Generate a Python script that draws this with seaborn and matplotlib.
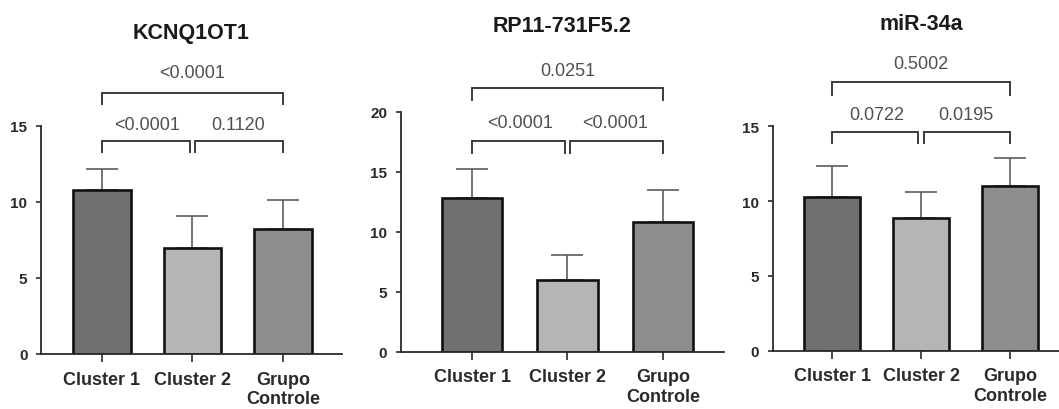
import numpy as np
import pandas as pd
import matplotlib
matplotlib.use("Agg")
import matplotlib.pyplot as plt
import seaborn as sns

# ---- data -------------------------------------------------------------
groups = ["Cluster 1", "Cluster 2", "Grupo\nControle"]
genes = ["KCNQ1OT1", "RP11-731F5.2", "miR-34a"]

kcnq_mean = [10.8, 6.95, 8.2]
kcnq_sd = [1.4, 2.15, 1.95]
rp11_mean = [12.8, 6.0, 10.8]
rp11_sd = [2.4, 2.1, 2.7]
mir34_mean = [10.25, 8.87, 11.03]
mir34_sd = [2.12, 1.76, 1.85]

# p-values: (Cluster 1 vs 2, Cluster 2 vs Controle, Cluster 1 vs Controle)
kcnq_p = ["<0.0001", "0.1120", "<0.0001"]
rp11_p = ["<0.0001", "<0.0001", "0.0251"]
mir34_p = ["0.0722", "0.0195", "0.5002"]

kcnq_yticks = [0, 5, 10, 15]
rp11_yticks = [0, 5, 10, 15, 20]
mir34_yticks = [0, 5, 10, 15]

# ---- styling ----------------------------------------------------------
sns.set_style("ticks")
plt.rcParams["font.family"] = ["Liberation Sans", "DejaVu Sans"]

bar_colors = ["#707070", "#b4b4b8", "#8d8d8d"]
ink = "#2a2a2a"
bracket_col = "#3c3c3c"
ptext_col = "#505050"

W, H = 1059, 410
fig = plt.figure(figsize=(W / 100, H / 100), dpi=100)

# panel layout in pixels: left, right, baseline, px per unit, ylim top, xlim, title y
layouts = [
    dict(left=41, right=342, base=355, ppu=15.2, ytop=20, xl=(-0.674, 2.652), ty=34,
         low=14.0, low_tip=13.2, up=17.2, up_tip=16.35, low_lab=15.1, up_lab=18.5),
    dict(left=400.7, right=724, base=352.7, ppu=12.0, ytop=25, xl=(-0.747, 2.64), ty=27,
         low=17.6, low_tip=16.5, up=22.0, up_tip=20.9, low_lab=19.1, up_lab=23.4),
    dict(left=772.7, right=1069, base=351.7, ppu=14.96, ytop=20, xl=(-0.666, 2.66), ty=25,
         low=14.65, low_tip=13.8, up=17.98, up_tip=17.05, low_lab=15.82, up_lab=19.2),
]

means = [kcnq_mean, rp11_mean, mir34_mean]
sds = [kcnq_sd, rp11_sd, mir34_sd]
pvals = [kcnq_p, rp11_p, mir34_p]
yticks = [kcnq_yticks, rp11_yticks, mir34_yticks]

for gene, m, s, p, yt, L in zip(genes, means, sds, pvals, yticks, layouts):
    height_px = L["ytop"] * L["ppu"]
    ax = fig.add_axes([L["left"] / W, (H - L["base"]) / H,
                       (L["right"] - L["left"]) / W, height_px / H])

    df = pd.DataFrame({"grupo": groups, "valor": m})
    sns.barplot(data=df, x="grupo", y="valor", hue="grupo", palette=bar_colors,
                width=0.63, edgecolor="#111111", linewidth=1.9, errorbar=None,
                legend=False, ax=ax, zorder=2)

    xs = np.arange(len(groups))
    ax.errorbar(xs, m, yerr=[np.zeros(len(m)), s], fmt="none", ecolor="#5e5e5e",
                elinewidth=1.2, capsize=11.5, capthick=1.2, zorder=1)

    ax.set_xlim(*L["xl"])
    ax.set_ylim(0, L["ytop"])
    ax.set_yticks(yt)
    ax.set_yticklabels([str(v) for v in yt], fontsize=11, fontweight="bold", color=ink)
    ax.set_xticks(xs)
    ax.set_xticklabels(groups, fontsize=13, fontweight="bold", color=ink, linespacing=1.2)
    ax.set_xlabel("")
    ax.set_ylabel("")

    sns.despine(ax=ax)
    ax.spines["left"].set_bounds(0, yt[-1])
    for sp in ("left", "bottom"):
        ax.spines[sp].set_linewidth(1.3)
        ax.spines[sp].set_color(ink)
    ax.tick_params(axis="y", length=3.8, width=1.2, color=ink, pad=6)
    ax.tick_params(axis="x", length=6, width=1.2, color=ink, pad=6)
    ax.patch.set_alpha(0)

    # significance brackets
    gap = 0.03
    lw = 1.4

    def bracket(x0, x1, y, tip):
        ax.plot([x0, x0, x1, x1], [tip, y, y, tip], color=bracket_col, lw=lw,
                clip_on=False, solid_capstyle="butt", solid_joinstyle="miter")

    bracket(0, 1 - gap, L["low"], L["low_tip"])
    bracket(1 + gap, 2, L["low"], L["low_tip"])
    bracket(0, 2, L["up"], L["up_tip"])
    for xpos, ypos, txt in [(0.5, L["low_lab"], p[0]), (1.5, L["low_lab"], p[1]),
                            (1.0, L["up_lab"], p[2])]:
        ax.text(xpos, ypos, txt, ha="center", va="center", fontsize=13,
                color=ptext_col, clip_on=False)

    fig.text((L["left"] + L["right"]) / 2 / W, (H - L["ty"]) / H, gene,
             ha="center", va="center", fontsize=15.5, fontweight="bold", color="#1a1a1a")

fig.savefig("out.png", dpi=100)
